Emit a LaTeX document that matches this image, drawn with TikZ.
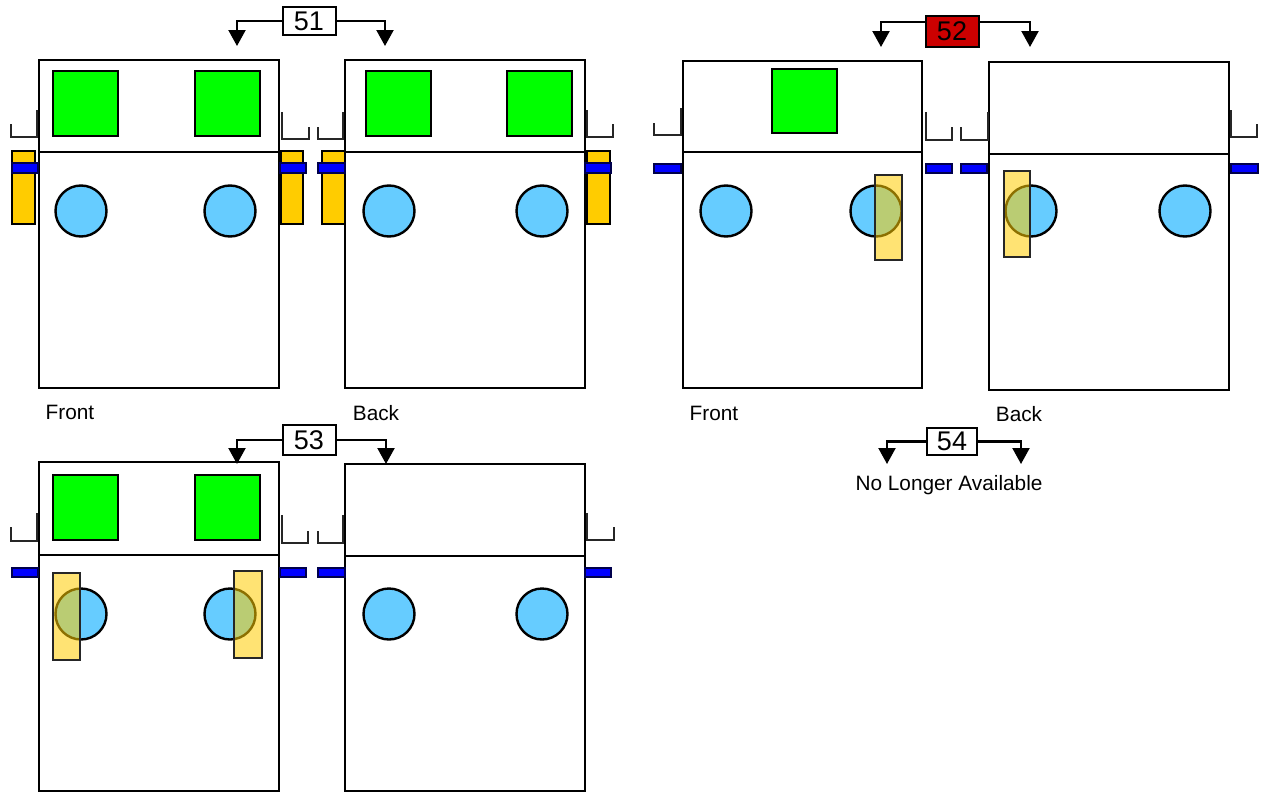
\documentclass[tikz,border=0pt]{standalone}
\usepackage{fontspec}
\setmainfont{Liberation Sans}
\usetikzlibrary{arrows.meta}
\definecolor{grn}{HTML}{00FF00}
\definecolor{holeblue}{HTML}{66CCFF}
\definecolor{ylw}{HTML}{FFCC00}
\definecolor{barblue}{HTML}{0000FF}
\definecolor{redbox}{HTML}{CC0000}
\tikzset{
  panel/.style={draw=black, line width=2.4pt},
  greenbox/.style={draw=black, fill=grn, line width=2.4pt},
  hole/.style={draw=black, fill=holeblue, line width=2.4pt},
  bracket/.style={draw=black!85, line width=2.6pt},
  ybar/.style={draw=black, fill=ylw, line width=2.6pt},
  ytrans/.style={draw=black!85, fill=ylw, fill opacity=0.55, line width=2.2pt},
  bbar/.style={draw=black!70!blue, fill=barblue, line width=2pt},
  numbox/.style={draw=black, line width=2pt, fill=white, inner sep=0pt,
    minimum width=53pt, font=\fontsize{27}{29}\selectfont},
  caption/.style={font=\fontsize{20.8}{24}\selectfont, inner sep=0pt},
  arr/.style={draw=black, line width=2.2pt, -{Triangle[width=17pt,length=16pt]}}
}
\begin{document}
\begin{tikzpicture}[x=1pt,y=-1pt]
\useasboundingbox (0,0) rectangle (1264,795);

% ---------- Panel 1 (top-left front)
\draw[panel] (39,60) rectangle (279,388);
\draw[panel] (39,152) -- (279,152);
\draw[greenbox] (53,71) rectangle (118,136);
\draw[greenbox] (195,71) rectangle (260,136);
\draw[hole] (81,211) circle (25.5pt);
\draw[hole] (230,211) circle (25.5pt);
\draw[bracket] (11,124) |- (37,137) -- (37,110);
\draw[ybar] (12,151) rectangle (35,224);
\draw[bbar] (12,163) rectangle (38,173);
\draw[bracket] (309,127) |- (282,139) -- (282,112);
\draw[ybar] (281,151) rectangle (303,224);
\draw[bbar] (280,163) rectangle (306,173);

% ---------- Panel 2 (top-left back)
\draw[panel] (345,60) rectangle (585,388);
\draw[panel] (345,152) -- (585,152);
\draw[greenbox] (366,71) rectangle (431,136);
\draw[greenbox] (507,71) rectangle (572,136);
\draw[hole] (389,211) circle (25.5pt);
\draw[hole] (542,211) circle (25.5pt);
\draw[bracket] (318,127) |- (343,139) -- (343,112);
\draw[ybar] (322,151) rectangle (345,224);
\draw[bbar] (318,163) rectangle (345,173);
\draw[bracket] (613,124) |- (587,137) -- (587,110);
\draw[ybar] (587,151) rectangle (610,224);
\draw[bbar] (585,163) rectangle (611,173);

% ---------- Panel 3 (top-right front)
\draw[panel] (683,61) rectangle (922,388);
\draw[panel] (683,152) -- (922,152);
\draw[greenbox] (772,69) rectangle (837,133);
\draw[hole] (726,211) circle (25.5pt);
\draw[hole] (876,211) circle (25.5pt);
\draw[ytrans] (875,175) rectangle (902,260);
\draw[bracket] (654,123) |- (681,135) -- (681,108);
\draw[bbar] (654,164) rectangle (681,173);
\draw[bracket] (952,127) |- (926,140) -- (926,112);
\draw[bbar] (926,164) rectangle (952,173);

% ---------- Panel 4 (top-right back)
\draw[panel] (989,62) rectangle (1229,390);
\draw[panel] (989,154) -- (1229,154);
\draw[hole] (1031,211) circle (25.5pt);
\draw[hole] (1185,211) circle (25.5pt);
\draw[ytrans] (1004,171) rectangle (1030,257);
\draw[bracket] (961,127) |- (988,140) -- (988,112);
\draw[bbar] (961,164) rectangle (987,173);
\draw[bracket] (1257,124) |- (1231,137) -- (1231,110);
\draw[bbar] (1231,164) rectangle (1258,173);

% ---------- Panel 5 (bottom-left front)
\draw[panel] (39,462) rectangle (279,791);
\draw[panel] (39,555) -- (279,555);
\draw[greenbox] (53,475) rectangle (118,540);
\draw[greenbox] (195,475) rectangle (260,540);
\draw[hole] (81,614) circle (25.5pt);
\draw[hole] (230,614) circle (25.5pt);
\draw[ytrans] (53,573) rectangle (80,660);
\draw[ytrans] (234,571) rectangle (262,658);
\draw[bracket] (11,527) |- (37,541) -- (37,513);
\draw[bbar] (12,568) rectangle (38,577);
\draw[bracket] (308,531) |- (282,543) -- (282,515);
\draw[bbar] (280,568) rectangle (306,577);

% ---------- Panel 6 (bottom-left back)
\draw[panel] (345,464) rectangle (585,791);
\draw[panel] (345,556) -- (585,556);
\draw[hole] (389,614) circle (25.5pt);
\draw[hole] (542,614) circle (25.5pt);
\draw[bracket] (318,531) |- (343,543) -- (343,515);
\draw[bbar] (318,568) rectangle (345,577);
\draw[bracket] (614,527) |- (587,540) -- (587,513);
\draw[bbar] (585,568) rectangle (611,577);

% ---------- Captions
\node[caption] (f1) at (70,412) {Front};
\node[caption] (k1) at (376,413) {Back};
\node[caption] (f2) at (714,413) {Front};
\node[caption] (k2) at (1019,414) {Back};
\node[caption] (nla) at (949,485) {No Longer Available};

% ---------- Number boxes and arrows
\node[numbox, minimum height=28pt] (b51) at (309,21) {51};
\coordinate (t51l) at (237,46);
\coordinate (t51r) at (385,46);
\draw[arr] (b51.west) -| (t51l);
\draw[arr] (b51.east) -| (t51r);

\node[numbox, fill=redbox, minimum height=31pt] (b52) at (952,31.5) {52};
\coordinate (t52l) at (881,47);
\coordinate (t52r) at (1030,47);
\draw[arr] ([yshift=9.5pt]b52.west) -| (t52l);
\draw[arr] ([yshift=9.5pt]b52.east) -| (t52r);

\node[numbox, minimum height=30pt] (b53) at (309,440) {53};
\coordinate (t53l) at (237,464);
\coordinate (t53r) at (386,464);
\draw[arr] (b53.west) -| (t53l);
\draw[arr] (b53.east) -| (t53r);

\node[numbox, minimum width=50pt, minimum height=27pt] (b54) at (952,441.5) {54};
\coordinate (t54l) at (887,464);
\coordinate (t54r) at (1021,464);
\draw[arr] (b54.west) -| (t54l);
\draw[arr] (b54.east) -| (t54r);
\end{tikzpicture}
\end{document}
